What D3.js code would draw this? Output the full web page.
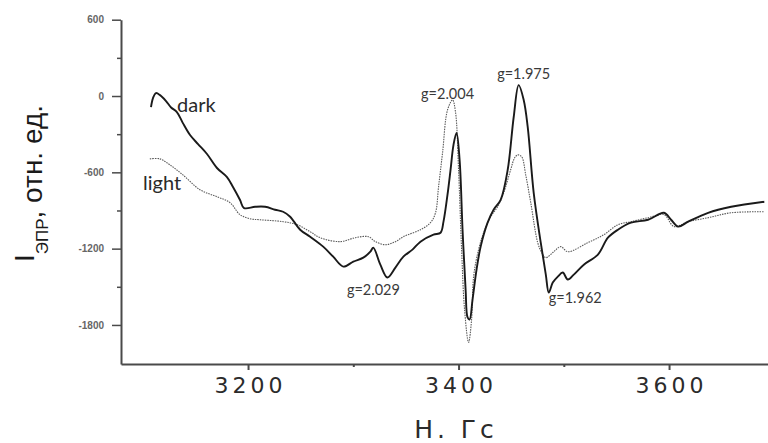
<!DOCTYPE html>
<html>
<head>
<meta charset="utf-8">
<script src="https://cdn.jsdelivr.net/npm/d3@7"></script>
<style>
  html, body { margin: 0; padding: 0; background: #fff; }
  svg { display: block; }
</style>
</head>
<body>
<svg id="chart" width="768" height="443"></svg>
<script>
// EPR spectra: magnetic field H (Gs) vs signal intensity (arb. units)
const darkField = [3107.8, 3109.7, 3112.5, 3116.4, 3122.1, 3126.9, 3132.4, 3138.1, 3144.9, 3152.5,
  3161.0, 3170.5, 3180.0, 3185.7, 3192.4, 3196.2, 3206.7, 3216.2, 3225.7, 3233.3,
  3240.0, 3249.5, 3259.0, 3271.4, 3280.9, 3290.5, 3300.0, 3309.5, 3316.2, 3319.0,
  3325.7, 3332.4, 3340.0, 3347.6, 3356.2, 3363.8, 3376.2, 3382.9, 3385.7, 3389.5,
  3392.4, 3395.2, 3398.1, 3401.0, 3403.8, 3406.7, 3408.6, 3410.5, 3413.3, 3417.1,
  3421.0, 3427.6, 3433.3, 3440.0, 3446.7, 3452.4, 3457.1, 3461.9, 3465.7, 3471.4,
  3478.1, 3482.9, 3485.7, 3489.5, 3494.3, 3499.0, 3503.8, 3509.5, 3519.0, 3532.4,
  3541.9, 3551.4, 3563.8, 3580.0, 3595.2, 3601.9, 3608.6, 3618.1, 3637.1, 3659.0,
  3690.5];
const darkSignal = [-87, -16, 23, 7, -40, -90, -126, -213, -307, -378,
  -456, -566, -637, -716, -818, -881, -871, -871, -894, -910,
  -949, -1051, -1106, -1184, -1263, -1341, -1302, -1271, -1224, -1192,
  -1326, -1427, -1349, -1263, -1208, -1145, -1090, -1075, -988, -776,
  -580, -384, -290, -502, -1051, -1522, -1741, -1757, -1600, -1365,
  -1184, -996, -894, -816, -580, -165, 86, -31, -243, -761,
  -1153, -1404, -1545, -1467, -1420, -1388, -1443, -1404, -1326, -1247,
  -1114, -1051, -996, -973, -918, -973, -1027, -988, -918, -871,
  -831];

const lightField = [3106.7, 3116.2, 3125.7, 3138.1, 3154.3, 3170.5, 3182.9, 3192.4, 3201.9, 3211.4,
  3233.3, 3246.7, 3259.0, 3268.6, 3287.6, 3301.9, 3314.3, 3321.0, 3330.5, 3340.0,
  3347.6, 3363.8, 3373.3, 3378.1, 3381.0, 3384.8, 3389.5, 3394.3, 3397.1, 3400.0,
  3402.9, 3405.7, 3409.5, 3412.4, 3414.3, 3419.0, 3423.8, 3430.5, 3437.1, 3442.9,
  3449.5, 3453.3, 3456.2, 3460.0, 3463.8, 3468.6, 3475.2, 3479.0, 3482.9, 3490.5,
  3497.1, 3503.8, 3522.9, 3538.1, 3551.4, 3563.8, 3580.0, 3595.2, 3604.8, 3618.1,
  3637.1, 3659.0, 3690.5];
const lightSignal = [-494, -494, -541, -620, -737, -792, -839, -933, -965, -973,
  -988, -1012, -1067, -1114, -1145, -1114, -1106, -1145, -1169, -1145,
  -1106, -1051, -996, -918, -714, -447, -110, -31, -125, -580,
  -1208, -1678, -1937, -1757, -1420, -1208, -1075, -949, -871, -761,
  -580, -486, -463, -478, -620, -839, -1153, -1231, -1271, -1224,
  -1184, -1224, -1153, -1090, -1012, -988, -957, -933, -1027, -988,
  -957, -918, -910];

const yMajorTicks = [600, 0, -600, -1200, -1800];
const yMinorTicks = [300, -300, -900, -1500];
const xMajorTicks = [3200, 3400, 3600];
const xMinorTicks = [3300, 3500];

// g-factor annotations: text, field, signal
const gLabels = ["g=2.004", "g=1.975", "g=2.029", "g=1.962"];
const gField = [3394.3, 3457.1, 3332.4, 3485.7];
const gSignal = [-31, 86, -1427, -1545];

const seriesNames = ["dark", "light"];

const svg = d3.select("#chart");
const x = d3.scaleLinear().domain([3079.3, 3694]).range([121, 768]);
const y = d3.scaleLinear().domain([-2107, 600]).range([364, 19.7]);

// plot lines
const line = d3.line().x(d => x(d[0])).y(d => y(d[1])).curve(d3.curveCatmullRom.alpha(0.5));
const darkData = d3.zip(darkField, darkSignal);
const lightData = d3.zip(lightField, lightSignal);

svg.append("path").datum(lightData)
  .attr("d", line).attr("fill", "none")
  .attr("stroke", "#5a5a5a").attr("stroke-width", 1.1)
  .attr("stroke-dasharray", "1.5,1");

svg.append("path").datum(darkData)
  .attr("d", line).attr("fill", "none")
  .attr("stroke", "#1a1a1a").attr("stroke-width", 1.9)
  .attr("stroke-linejoin", "round");

// axes
const axisColor = "#4a4a4a";
const yAxis = svg.append("g").attr("transform", "translate(121,0)")
  .call(d3.axisLeft(y).tickValues(yMajorTicks).tickSize(9).tickSizeOuter(0).tickPadding(8)
    .tickFormat(d => String(d)));
yAxis.select(".domain").attr("stroke", axisColor).attr("stroke-width", 2);
yAxis.selectAll(".tick line").attr("stroke", axisColor).attr("stroke-width", 1.5);
yAxis.selectAll(".tick text")
  .attr("font-family", "Liberation Sans, Arial, sans-serif")
  .attr("font-size", 10).attr("font-weight", "bold").attr("fill", "#666");

svg.append("g").attr("transform", "translate(121,0)")
  .call(d3.axisLeft(y).tickValues(yMinorTicks).tickSize(4).tickFormat(""))
  .call(g => g.select(".domain").remove())
  .selectAll(".tick line").attr("stroke", axisColor).attr("stroke-width", 1.5);

const xAxis = svg.append("g").attr("transform", "translate(0,364)")
  .call(d3.axisBottom(x).tickValues(xMajorTicks).tickSize(6).tickSizeOuter(0).tickPadding(7)
    .tickFormat(d => String(d)));
xAxis.select(".domain").attr("stroke", axisColor).attr("stroke-width", 2);
xAxis.selectAll(".tick line").attr("stroke", axisColor).attr("stroke-width", 2);
xAxis.selectAll(".tick text")
  .attr("font-family", "DejaVu Sans, sans-serif")
  .attr("font-size", 22).attr("fill", "#2b2b2b")
  .attr("letter-spacing", "4px").attr("dx", "2px");

svg.append("g").attr("transform", "translate(0,364)")
  .call(d3.axisBottom(x).tickValues(xMinorTicks).tickSize(3).tickFormat(""))
  .call(g => g.select(".domain").remove())
  .selectAll(".tick line").attr("stroke", axisColor).attr("stroke-width", 2);

// axis titles
svg.append("text")
  .attr("x", 456).attr("y", 438)
  .attr("text-anchor", "middle")
  .attr("font-family", "DejaVu Sans, sans-serif")
  .attr("font-size", 25).attr("fill", "#2b2b2b")
  .attr("letter-spacing", "4px")
  .text("Н. Гс");

const yTitle = svg.append("text")
  .attr("transform", "translate(42,262) rotate(-90)")
  .attr("font-family", "Liberation Sans, Arial, sans-serif")
  .attr("font-size", 28).attr("fill", "#1a1a1a");
yTitle.append("tspan").attr("dy", -8).text("I");
yTitle.append("tspan").attr("font-size", 17).attr("dy", 14).text("ЭПР");
yTitle.append("tspan").attr("dy", -6).text(", отн. ед.");

// series labels
const seriesLabelPos = [[177, 112], [143, 190]];
svg.selectAll(".series-label").data(seriesNames).join("text")
  .attr("class", "series-label")
  .attr("x", (d, i) => seriesLabelPos[i][0])
  .attr("y", (d, i) => seriesLabelPos[i][1])
  .attr("font-family", "Lato, sans-serif")
  .attr("font-size", 20).attr("fill", "#2a2a2a")
  .text(d => d);

// g-factor labels placed relative to the marked extrema
const gOffset = [[-5, -1], [5, -6], [-14, 17], [0, 10]];
const gAnchor = ["middle", "middle", "middle", "start"];
svg.selectAll(".g-label").data(gLabels).join("text")
  .attr("class", "g-label")
  .attr("x", (d, i) => x(gField[i]) + gOffset[i][0])
  .attr("y", (d, i) => y(gSignal[i]) + gOffset[i][1])
  .attr("text-anchor", (d, i) => gAnchor[i])
  .attr("font-family", "Lato, sans-serif")
  .attr("font-size", 14.5).attr("fill", "#3a3a3a")
  .text(d => d);
</script>
</body>
</html>
